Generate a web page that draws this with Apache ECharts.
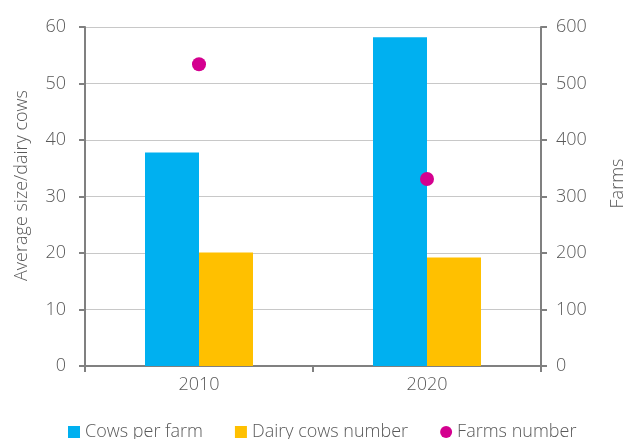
<!DOCTYPE html>
<html><head><meta charset="utf-8">
<script src="https://cdn.jsdelivr.net/npm/echarts@6/dist/echarts.min.js"></script>
<style>html,body{margin:0;padding:0;background:#fff}#c{width:625px;height:439px}</style>
</head><body><div id="c"></div>
<script>
var categories = ['2010', '2020'];
var cowsPerFarm = [37.8, 58.2];
var dairyCowsNumber = [20.1, 19.2];
var farmsNumber = [534, 331];
var leftTicks = [0, 10, 20, 30, 40, 50, 60];
var rightTicks = [0, 100, 200, 300, 400, 500, 600];

var FONT = '"Open Sans", "DejaVu Sans", sans-serif';
var TXT = '#595959';
var AX = '#808080';
var chart = echarts.init(document.getElementById('c'), null, {renderer: 'canvas'});
chart.setOption({
  animation: false,
  textStyle: {fontFamily: FONT},
  grid: {left: 85, right: 84, top: 27, bottom: 73, containLabel: false, outerBoundsMode: 'none'},
  legend: {
    bottom: -7, left: 63, itemGap: 32, itemWidth: 12, itemHeight: 12,
    textStyle: {color: TXT, fontSize: 18, fontFamily: FONT, fontWeight: 300},
    data: [
      {name: 'Cows per farm', icon: 'rect'},
      {name: 'Dairy cows number', icon: 'rect'},
      {name: 'Farms number', icon: 'circle'}
    ]
  },
  xAxis: {
    type: 'category', data: categories,
    axisLine: {lineStyle: {color: AX, width: 2}},
    axisTick: {show: true, length: 6, lineStyle: {color: AX, width: 2}},
    axisLabel: {color: TXT, fontSize: 18, margin: 10, fontFamily: FONT, fontWeight: 300}
  },
  yAxis: [{
    type: 'value', min: leftTicks[0], max: leftTicks[leftTicks.length - 1], interval: 10,
    name: 'Average size/dairy cows', nameLocation: 'middle', nameGap: 54,
    nameTextStyle: {color: TXT, fontSize: 18, fontFamily: FONT, fontWeight: 300, padding: [0, 0, 0, 22]},
    axisLine: {show: true, lineStyle: {color: AX, width: 2}},
    axisTick: {show: true, length: 6, lineStyle: {color: AX, width: 2}},
    axisLabel: {color: TXT, fontSize: 18, margin: 19, fontFamily: FONT, fontWeight: 300},
    splitLine: {lineStyle: {color: '#c8c8c8', width: 1}}
  }, {
    type: 'value', min: rightTicks[0], max: rightTicks[rightTicks.length - 1], interval: 100,
    name: 'Farms', nameLocation: 'middle', nameGap: 68,
    nameTextStyle: {color: TXT, fontSize: 18, fontFamily: FONT, fontWeight: 300, padding: [0, 0, 0, 26]},
    axisLine: {show: true, lineStyle: {color: AX, width: 2}},
    axisTick: {show: true, length: 6, lineStyle: {color: AX, width: 2}},
    axisLabel: {color: TXT, fontSize: 18, margin: 15, fontFamily: FONT, fontWeight: 300},
    splitLine: {show: false}
  }],
  series: [{
    name: 'Cows per farm', type: 'bar', data: cowsPerFarm, yAxisIndex: 0,
    barWidth: 54, barGap: '0%', itemStyle: {color: '#00B0F0'}
  }, {
    name: 'Dairy cows number', type: 'bar', data: dairyCowsNumber, yAxisIndex: 0,
    barWidth: 54, barGap: '0%', itemStyle: {color: '#FFC000'}
  }, {
    name: 'Farms number', type: 'scatter', data: farmsNumber, yAxisIndex: 1,
    symbol: 'circle', symbolSize: 14, itemStyle: {color: '#D4008F', opacity: 1}, z: 5
  }]
});
</script></body></html>
